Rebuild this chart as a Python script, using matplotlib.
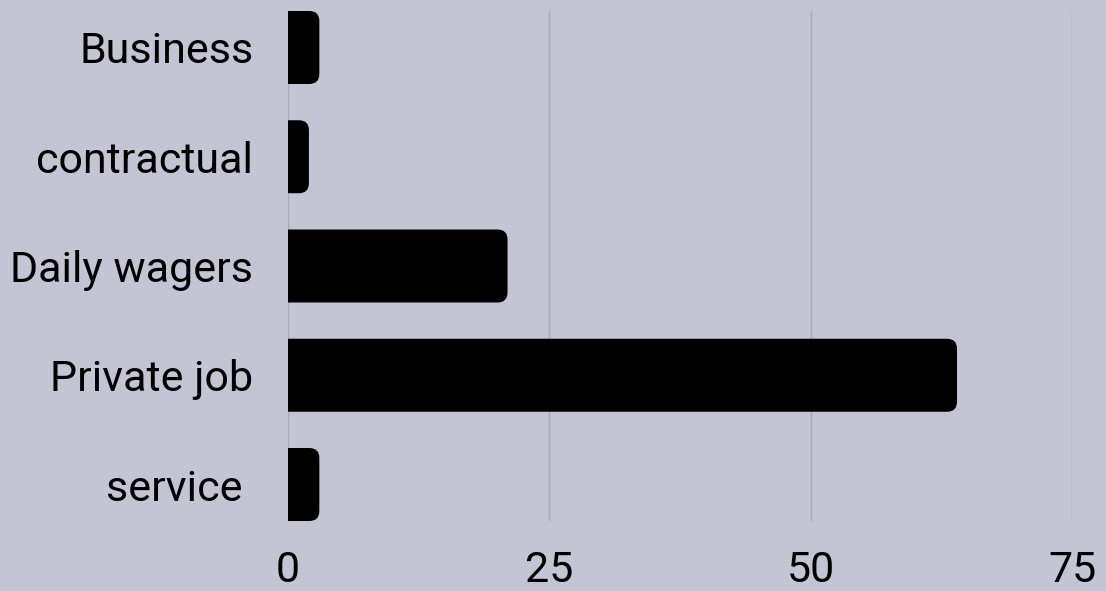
import matplotlib.pyplot as plt
from matplotlib.patches import FancyBboxPatch

categories = ['Business', 'contractual', 'Daily wagers', 'Private job', 'service ']
values = [3, 2, 21, 64, 3]
x_ticks = [0, 25, 50, 75]

BG = '#c3c5d5'
GRID = '#a9abba'
BAR_H = 0.668
X_MAX = 75

plt.rcParams['font.family'] = ['Roboto', 'DejaVu Sans']

fig = plt.figure(figsize=(11.06, 5.91), dpi=100, facecolor=BG)
ax = fig.add_axes([288 / 1106, 1 - 521 / 591, (1072 - 288) / 1106, 510 / 591])
ax.set_facecolor(BG)

ax.set_xlim(0, X_MAX)
ax.set_ylim(len(categories) - 1 + BAR_H / 2, -BAR_H / 2)

# rounding in pixels: keep corners circular despite different x/y scales
bbox = ax.get_window_extent()
px_per_x = bbox.width / X_MAX
px_per_y = bbox.height / (len(categories) - 1 + BAR_H)
aspect = px_per_x / px_per_y
radius = 10 / px_per_x

for i, v in enumerate(values):
    # start left of the axis so only the right corners show rounded
    patch = FancyBboxPatch((-3, i - BAR_H / 2), v + 3, BAR_H,
                           boxstyle=f'round,pad=0,rounding_size={radius}',
                           mutation_aspect=aspect,
                           facecolor='black', edgecolor='none', zorder=3)
    ax.add_patch(patch)

ax.set_yticks(range(len(categories)))
ax.set_yticklabels(categories, fontsize=31, color='#000000')
ax.set_xticks(x_ticks)
ax.set_xticklabels([str(t) for t in x_ticks], fontsize=31, color='#000000')
ax.tick_params(axis='y', length=0, pad=25)
ax.tick_params(axis='x', length=0, pad=21)

ax.grid(axis='x', color=GRID, linewidth=1, zorder=0)
ax.set_axisbelow(True)
for s in ax.spines.values():
    s.set_visible(False)

fig.savefig('out.png', dpi=100, facecolor=BG)
